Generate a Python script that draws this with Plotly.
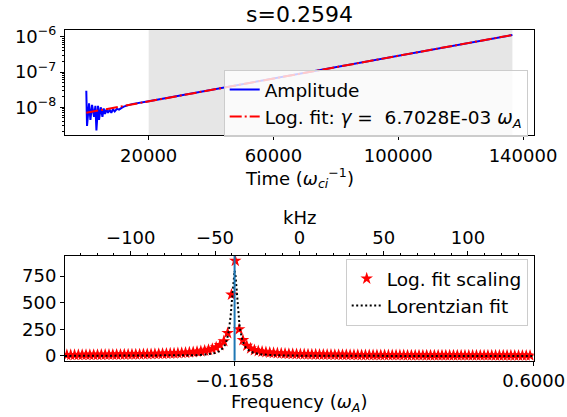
import plotly.graph_objects as go

# ---------------- top panel data ----------------
s_value = "0.2594"
gamma_text = "6.7028E-03"

amp_time = [0, 230, 870, 1320, 1840, 2480, 2920, 3240, 3760, 4080, 4620, 5170,
            5580, 6000, 6450, 6960, 7500, 8020, 8550, 9100, 9800, 10500, 11300,
            12000, 13500, 15000, 20000, 40000, 60000, 80000, 100000, 120000, 136600]
amp_value = [2.95e-8, 2.95e-9, 1.3e-8, 4.4e-9, 1.17e-8, 5.4e-9, 1.1e-8, 2.2e-9,
             1.1e-8, 4.4e-9, 1.0e-8, 5.4e-9, 9.3e-9, 6.5e-9, 8.7e-9, 7.0e-9,
             8.5e-9, 7.0e-9, 8.7e-9, 7.6e-9, 9.0e-9, 8.6e-9, 9.6e-9, 1.05e-8,
             1.15e-8, 1.25e-8, 1.48e-8, 3.10e-8, 6.52e-8, 1.37e-7, 2.87e-7,
             6.03e-7, 1.12e-6]

fit_time = [0, 136600]
fit_value = [7.0e-9, 1.12e-6]
fit_window = [20000, 136600]

time_ticks = [20000, 60000, 100000, 140000]
time_tick_text = ["20000", "60000", "100000", "140000"]
amp_ticks = [1e-8, 1e-7, 1e-6]
amp_tick_text = ["10<sup>−8</sup>", "10<sup>−7</sup>", "10<sup>−6</sup>"]

# ---------------- bottom panel data ----------------
freq = [-0.5952, -0.5854, -0.5756, -0.5658, -0.5560, -0.5462, -0.5364, -0.5266, -0.5168, -0.5070,
        -0.4972, -0.4874, -0.4776, -0.4678, -0.4580, -0.4482, -0.4384, -0.4286, -0.4188, -0.4090,
        -0.3992, -0.3894, -0.3796, -0.3698, -0.3600, -0.3502, -0.3404, -0.3306, -0.3208, -0.3110,
        -0.3012, -0.2914, -0.2816, -0.2718, -0.2620, -0.2522, -0.2424, -0.2326, -0.2228, -0.2130,
        -0.2032, -0.1934, -0.1836, -0.1738, -0.1640, -0.1542, -0.1444, -0.1346, -0.1248, -0.1150,
        -0.1052, -0.0954, -0.0856, -0.0758, -0.0660, -0.0562, -0.0464, -0.0366, -0.0268, -0.0170,
        -0.0072, 0.0026, 0.0124, 0.0222, 0.0320, 0.0418, 0.0516, 0.0614, 0.0712, 0.0810,
        0.0908, 0.1006, 0.1104, 0.1202, 0.1300, 0.1398, 0.1496, 0.1594, 0.1692, 0.1790,
        0.1888, 0.1986, 0.2084, 0.2182, 0.2280, 0.2378, 0.2476, 0.2574, 0.2672, 0.2770,
        0.2868, 0.2966, 0.3064, 0.3162, 0.3260, 0.3358, 0.3456, 0.3554, 0.3652, 0.3750,
        0.3848, 0.3946, 0.4044, 0.4142, 0.4240, 0.4338, 0.4436, 0.4534, 0.4632, 0.4730,
        0.4828, 0.4926, 0.5024, 0.5122, 0.5220, 0.5318, 0.5416, 0.5514, 0.5612, 0.5710,
        0.5808, 0.5906]
power = [8.8, 9.1, 9.3, 9.5, 9.7, 10.0, 10.3, 10.5, 10.8, 11.1,
         11.5, 11.8, 12.2, 12.6, 13.0, 13.5, 13.9, 14.5, 15.0, 15.6,
         16.3, 17.0, 17.8, 18.6, 19.6, 20.6, 21.8, 23.0, 24.5, 26.0,
         28, 30, 33, 36, 40, 44, 50, 57, 67, 80,
         102, 138, 215, 575, 893, 250, 148, 96, 70, 55,
         46, 40, 35, 31, 28, 25.5, 23.5, 21.7, 20.1, 18.8,
         17.7, 16.6, 15.7, 14.9, 14.2, 13.5, 12.9, 12.3, 11.8, 11.3,
         10.9, 10.5, 10.1, 9.8, 9.5, 9.2, 8.9, 8.6, 8.4, 8.1,
         7.9, 7.7, 7.5, 7.3, 7.1, 6.9, 6.8, 6.6, 6.5, 6.3,
         6.2, 6.1, 5.9, 5.8, 5.7, 5.6, 5.5, 5.4, 5.3, 5.2,
         5.1, 5.0, 4.9, 4.8, 4.75, 4.7, 4.6, 4.5, 4.45, 4.4,
         4.3, 4.25, 4.2, 4.1, 4.1, 4.0, 4.0, 3.9, 3.85, 3.8,
         3.75, 3.7]

lor_freq = [-0.6, -0.4658, -0.3658, -0.3158, -0.2658, -0.2358, -0.2158, -0.2058, -0.1958,
            -0.1908, -0.1858, -0.1808, -0.1783, -0.1758, -0.1733, -0.1708, -0.1683,
            -0.1658,
            -0.1633, -0.1608, -0.1583, -0.1558, -0.1533, -0.1508, -0.1458, -0.1408,
            -0.1358, -0.1258, -0.1158, -0.0958, -0.0658, -0.0158, 0.0342, 0.1342, 0.6]
lor_value = [0.4, 0.8, 1.8, 3.2, 7.2, 14.4, 27.8, 43, 73, 101, 148, 229, 293, 379, 492, 627, 748,
             800,
             748, 627, 492, 379, 293, 229, 148, 101, 73, 43, 27.8, 14.4, 7.2, 3.2, 1.8, 0.8, 0.1]

peak_freq = -0.1658
freq_range = [-0.6, 0.6]
freq_ticks = [-0.1658, 0.6]
freq_tick_text = ["−0.1658", "0.6000"]
power_ticks = [0, 250, 500, 750]
power_tick_text = ["0", "250", "500", "750"]
khz_per_omega = 231.7
khz_ticks = [-100, -50, 0, 50, 100]
khz_tick_text = ["−100", "−50", "0", "50", "100"]

# ---------------- figure ----------------
FONT = "DejaVu Sans"
W, H = 567, 417

fig = go.Figure()
fig.add_trace(go.Scatter(x=amp_time, y=amp_value, mode="lines",
                         line=dict(color="#0000ff", width=2), name="Amplitude",
                         xaxis="x", yaxis="y", legend="legend"))
fig.add_trace(go.Scatter(x=fit_time, y=fit_value, mode="lines",
                         line=dict(color="#ff0000", width=2, dash="12px,3px,2px,3px"),
                         name=f"Log. fit: <i>γ</i> =  {gamma_text} <i>ω</i><sub><i>A</i></sub>",
                         xaxis="x", yaxis="y", legend="legend"))
fig.add_trace(go.Scatter(x=freq, y=power, mode="markers",
                         marker=dict(symbol="star", size=9.5, color="#ff0000", line=dict(width=0)),
                         name="Log. fit scaling", xaxis="x2", yaxis="y2", legend="legend2"))
fig.add_trace(go.Scatter(x=lor_freq, y=lor_value, mode="lines",
                         line=dict(color="black", width=2, dash="2px,2.5px"),
                         name="Lorentzian fit", xaxis="x2", yaxis="y2", legend="legend2"))
fig.add_trace(go.Scatter(x=[], y=[], xaxis="x3", yaxis="y2", showlegend=False,
                         hoverinfo="skip"))

# shaded fit window and peak line
fig.add_shape(type="rect", xref="x", yref="y domain", x0=fit_window[0], x1=fit_window[1],
              y0=0, y1=1, fillcolor="#e6e6e6", line=dict(width=0), layer="below")
fig.add_shape(type="line", xref="x2", yref="y2 domain", x0=peak_freq, x1=peak_freq,
              y0=0, y1=1, line=dict(color="#1f77b4", width=2), layer="above")

xdom = [65 / W, 533.7 / W]
top_dom = [1 - 135 / H, 1 - 30 / H]
bot_dom = [1 - 360.7 / H, 1 - 256 / H]

axis_common = dict(showline=True, linecolor="black", linewidth=1, ticks="outside",
                   ticklen=4, tickwidth=1, tickcolor="black", showgrid=False,
                   zeroline=False, automargin=False,
                   tickfont=dict(family=FONT, size=18, color="black"))

t_span = fit_time[1] - fit_time[0]
minor_log = [m * 10.0 ** e for e in (-9, -8, -7) for m in range(2, 10)]

fig.update_layout(
    width=W, height=H, margin=dict(l=0, r=0, t=0, b=0, autoexpand=False),
    paper_bgcolor="white", plot_bgcolor="white",
    font=dict(family=FONT, size=18, color="black"),
    xaxis=dict(domain=xdom, anchor="y", mirror=True,
               range=[fit_time[0] - 0.05 * t_span, fit_time[1] + 0.05 * t_span],
               tickmode="array", tickvals=time_ticks, ticktext=time_tick_text, **axis_common),
    yaxis=dict(domain=top_dom, anchor="x", mirror=True, type="log", range=[-8.785, -5.81],
               tickmode="array", tickvals=amp_ticks, ticktext=amp_tick_text,
               minor=dict(tickmode="array", tickvals=minor_log, ticks="outside", ticklen=2,
                          tickcolor="black"), **axis_common),
    xaxis2=dict(domain=xdom, anchor="y2", mirror=True, range=freq_range,
                tickmode="array", tickvals=freq_ticks, ticktext=freq_tick_text, **axis_common),
    yaxis2=dict(domain=bot_dom, anchor="x2", mirror=True, range=[-44.6, 937.8],
                tickmode="array", tickvals=power_ticks, ticktext=power_tick_text, **axis_common),
    xaxis3=dict(domain=xdom, anchor="y2", overlaying="x2", side="top",
                range=[freq_range[0] * khz_per_omega, freq_range[1] * khz_per_omega],
                tickmode="array", tickvals=khz_ticks, ticktext=khz_tick_text,
                minor=dict(dtick=10, ticks="outside", ticklen=2.5, tickcolor="black"),
                **axis_common),
    legend=dict(x=527.7 / W, y=1 - 70 / H, xanchor="right", yanchor="top",
                bgcolor="rgba(255,255,255,0.8)", bordercolor="#cccccc", borderwidth=1,
                font=dict(family=FONT, size=18.5, color="black"), itemwidth=30),
    legend2=dict(x=527.7 / W, y=1 - 259 / H, xanchor="right", yanchor="top",
                 bgcolor="rgba(255,255,255,0.8)", bordercolor="#cccccc", borderwidth=1,
                 font=dict(family=FONT, size=18.5, color="black"), itemwidth=30),
    showlegend=True,
)

xc = (xdom[0] + xdom[1]) / 2
fig.add_annotation(text=f"s={s_value}", x=xc, y=1 - 14 / H, xref="paper", yref="paper",
                   showarrow=False, xanchor="center", yanchor="middle",
                   font=dict(family=FONT, size=22, color="black"))
fig.add_annotation(text="Time (<i>ω</i><sub><i>ci</i></sub><sup>−1</sup>)", x=xc,
                   y=1 - 178 / H, xref="paper", yref="paper", showarrow=False,
                   xanchor="center", yanchor="middle", font=dict(family=FONT, size=18, color="black"))
fig.add_annotation(text="kHz", x=xc, y=1 - 217 / H, xref="paper", yref="paper",
                   showarrow=False, xanchor="center", yanchor="middle",
                   font=dict(family=FONT, size=18, color="black"))
fig.add_annotation(text="Frequency (<i>ω</i><sub><i>A</i></sub>)", x=xc, y=1 - 403 / H,
                   xref="paper", yref="paper", showarrow=False, xanchor="center",
                   yanchor="middle", font=dict(family=FONT, size=18, color="black"))

fig.write_html("out.html")
